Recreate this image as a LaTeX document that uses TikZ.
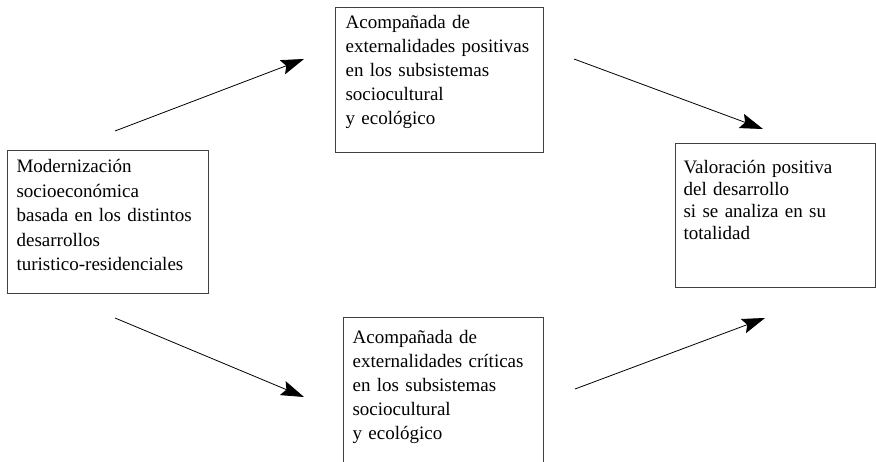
\documentclass[tikz,border=0pt]{standalone}
\usepackage{fontspec}
\setmainfont{Liberation Serif}
\usetikzlibrary{arrows.meta}

\tikzset{
  caja/.style={draw=black!75, line width=1.2pt, anchor=north west, align=left,
    inner ysep=0pt, font=\fontsize{19}{24}\selectfont},
  flecha/.style={-{Stealth[length=23pt,width=15pt,inset=4pt]}, line width=0.8pt}
}

\begin{document}
\begin{tikzpicture}[x=1pt,y=-1pt]
	\useasboundingbox (0,0) rectangle (876,462);
	% cajas
	\node[caja, text width=183pt, inner xsep=9pt, text height=22pt, text depth=121pt,
		font=\fontsize{19}{24.5}\selectfont] (modern) at (7,150)
		{Modernización\\socioeconómica\\basada en los distintos\\desarrollos\\turistico-residenciales};
	\node[caja, text width=188pt, inner xsep=10pt, text height=21pt, text depth=124pt] (positivas) at (335,7)
		{Acompañada de\\externalidades positivas\\en los subsistemas\\sociocultural\\y ecológico};
	\node[caja, text width=182pt, inner xsep=9pt, text height=26pt, text depth=150pt] (criticas) at (343,317)
		{Acompañada de\\externalidades críticas\\en los subsistemas\\sociocultural\\y ecológico};
	\node[caja, text width=184pt, inner xsep=8pt, text height=30pt, text depth=114pt,
		font=\fontsize{19}{22}\selectfont] (valoracion) at (675,143)
		{Valoración positiva\\del desarrollo\\si se analiza en su\\totalidad};
	% extremos de las flechas
	\coordinate (a1) at (115,131);
	\coordinate (b1) at (304,59);
	\coordinate (a2) at (574,59);
	\coordinate (b2) at (763,129);
	\coordinate (a3) at (115,318);
	\coordinate (b3) at (304,397);
	\coordinate (a4) at (575,389);
	\coordinate (b4) at (765,318);
	\draw[flecha] (a1) -- (b1);
	\draw[flecha] (a2) -- (b2);
	\draw[flecha] (a3) -- (b3);
	\draw[flecha] (a4) -- (b4);
\end{tikzpicture}
\end{document}
